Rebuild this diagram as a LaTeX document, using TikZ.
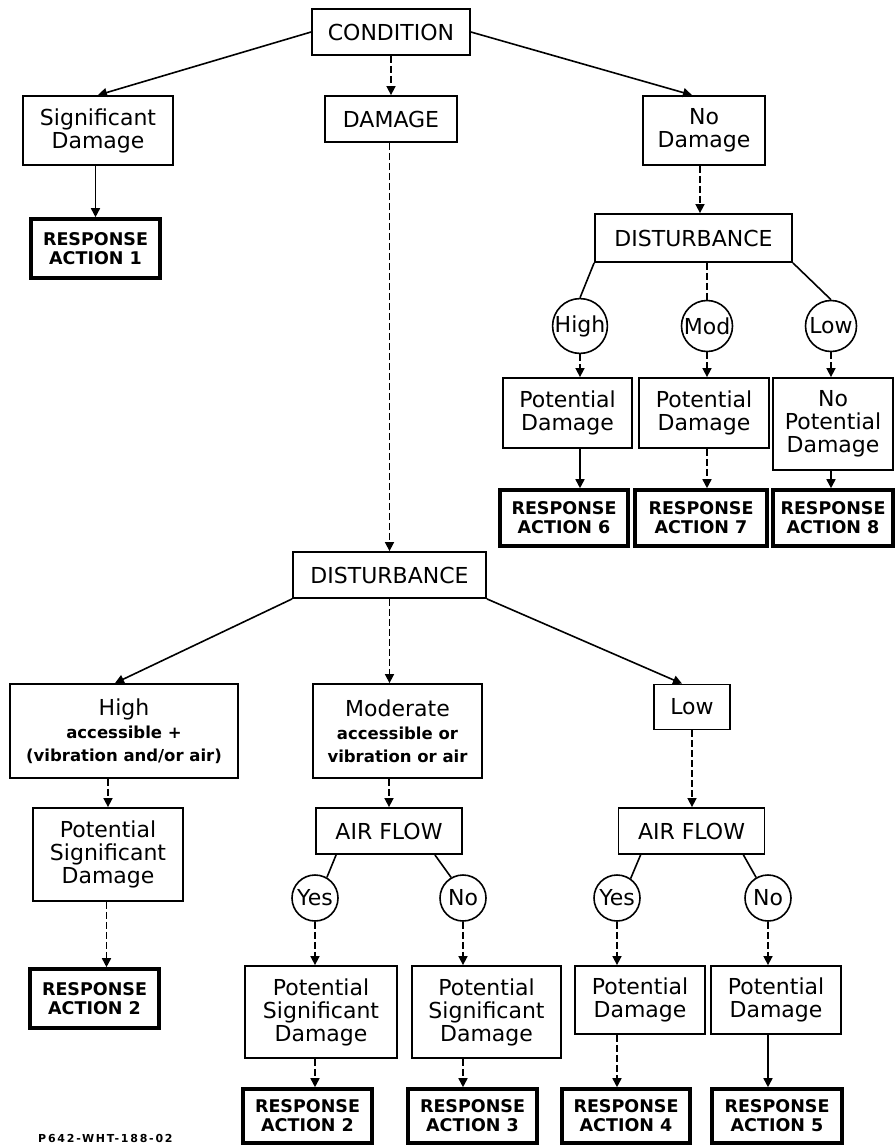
\documentclass[tikz,border=0pt]{standalone}
\usepackage{fontspec}
\setmainfont{DejaVu Sans}
\usetikzlibrary{arrows.meta}
\newcommand{\bigf}{\fontsize{22}{23}\selectfont}
\newcommand{\raf}{\fontsize{17.5}{19}\selectfont\bfseries}
\newcommand{\smf}{\fontsize{16.5}{22}\selectfont\bfseries}
\begin{document}
\begin{tikzpicture}[x=1pt,y=-1pt,
  bx/.style={draw, line width=1.8pt, align=center, inner sep=0pt, font=\bigf},
  ra/.style={draw, line width=3.6pt, align=center, inner sep=0pt, font=\raf},
  cc/.style={draw, circle, line width=1.6pt, inner sep=0pt, font=\bigf},
  ln/.style={line width=1.6pt},
  ar/.style={line width=1.6pt, -{Triangle[width=9pt,length=9pt]}},
  da/.style={ar, dash pattern=on 7pt off 3pt},
  dl/.style={ln, dash pattern=on 7pt off 3pt}]
\useasboundingbox (0,0) rectangle (895,1146);
% top level
\node[bx, minimum width=158pt, minimum height=46pt] (cond) at (391,32) {CONDITION};
\node[bx, minimum width=150pt, minimum height=69pt] (sig) at (98,130.5) {Significant\\Damage};
\node[bx, minimum width=132pt, minimum height=46pt] (dam) at (391,119) {DAMAGE};
\node[bx, minimum width=122pt, minimum height=69pt] (nod) at (704,130.5) {No\\Damage};
\node[ra, minimum width=129pt, minimum height=59pt] (ra1) at (95.5,248.5) {RESPONSE\\ACTION 1};
% no damage branch
\node[bx, minimum width=197pt, minimum height=48pt] (dist1) at (693.5,238) {DISTURBANCE};
\node[cc, minimum size=51pt] (c1) at (580,326) {High};
\node[cc, minimum size=51pt] (c2) at (707,326) {Mod};
\node[cc, minimum size=51pt] (c3) at (831,326) {Low};
\node[bx, minimum width=129pt, minimum height=70pt] (pd1) at (567.5,413) {Potential\\Damage};
\node[bx, minimum width=130pt, minimum height=70pt] (pd2) at (704,413) {Potential\\Damage};
\node[bx, minimum width=120pt, minimum height=92pt] (pd3) at (833,424) {No\\Potential\\Damage};
\node[ra, minimum width=128pt, minimum height=56pt] (ra6) at (564,518) {RESPONSE\\ACTION 6};
\node[ra, minimum width=132pt, minimum height=56pt] (ra7) at (701,518) {RESPONSE\\ACTION 7};
\node[ra, minimum width=120pt, minimum height=56pt] (ra8) at (833,518) {RESPONSE\\ACTION 8};
% damage branch
\node[bx, minimum width=193pt, minimum height=46pt] (dist2) at (389.5,575) {DISTURBANCE};
\node[bx, minimum width=228pt, minimum height=94pt] (hi) at (124,731) {High\\{\smf accessible +}\\{\smf (vibration and/or air)}};
\node[bx, minimum width=169pt, minimum height=94pt] (mo) at (397.5,731) {Moderate\\{\smf accessible or}\\{\smf vibration or air}};
\node[bx, minimum width=76pt, minimum height=45pt] (lo) at (692,707) {Low};
\node[bx, minimum width=150pt, minimum height=93pt] (psd1) at (108,854.5) {Potential\\Significant\\Damage};
\node[ra, minimum width=129pt, minimum height=59pt] (ra2a) at (94.5,998.5) {RESPONSE\\ACTION 2};
\node[bx, minimum width=146pt, minimum height=46pt] (af1) at (389,831) {AIR FLOW};
\node[bx, minimum width=146pt, minimum height=46pt] (af2) at (691.5,831) {AIR FLOW};
\node[cc, minimum size=46pt] (y1) at (315,898) {Yes};
\node[cc, minimum size=46pt] (n1) at (463,898) {No};
\node[cc, minimum size=46pt] (y2) at (617,898) {Yes};
\node[cc, minimum size=46pt] (n2) at (768,898) {No};
\node[bx, minimum width=152pt, minimum height=92pt] (psd2) at (321,1012) {Potential\\Significant\\Damage};
\node[bx, minimum width=149pt, minimum height=92pt] (psd3) at (486.5,1012) {Potential\\Significant\\Damage};
\node[bx, minimum width=130pt, minimum height=68pt] (pd4) at (640,1000) {Potential\\Damage};
\node[bx, minimum width=130pt, minimum height=68pt] (pd5) at (776,1000) {Potential\\Damage};
\node[ra, minimum width=129pt, minimum height=54pt] (ra2b) at (307.5,1116) {RESPONSE\\ACTION 2};
\node[ra, minimum width=129pt, minimum height=54pt] (ra3) at (472.5,1116) {RESPONSE\\ACTION 3};
\node[ra, minimum width=128pt, minimum height=54pt] (ra4) at (626,1116) {RESPONSE\\ACTION 4};
\node[ra, minimum width=130pt, minimum height=54pt] (ra5) at (777,1116) {RESPONSE\\ACTION 5};
\node[anchor=west, inner sep=0pt, font=\fontsize{11}{13}\selectfont\bfseries\addfontfeatures{LetterSpace=16}] (code) at (38,1138) {P642-WHT-188-02};
% connectors top
\draw[ar] (cond.west) -- (sig.north);
\draw[da] (cond.south) -- (dam.north);
\draw[ar] (cond.east) -- ([xshift=-12pt]nod.north);
\draw[ar] (sig.south -| ra1) -- (ra1.north);
\draw[da] (dam.south -| dist2) -- (dist2.north);
\draw[da] ([xshift=-4pt]nod.south) -- ([xshift=-4pt]nod.south |- dist1.north);
\draw[ln] (dist1.south west) -- (c1.north);
\draw[dl] (dist1.south -| c2) -- (c2.north);
\draw[ln] (dist1.south east) -- (c3.north);
\draw[da] (c1.south) -- (c1.south |- pd1.north);
\draw[da] (c2.south) -- (c2.south |- pd2.north);
\draw[da] (c3.south) -- (c3.south |- pd3.north);
\draw[ar] (pd1.south -| c1) -- (ra6.north -| c1);
\draw[da] (pd2.south -| c2) -- (ra7.north -| c2);
\draw[ar] (pd3.south -| c3) -- (ra8.north -| c3);
% connectors bottom
\draw[ar] (dist2.south west) -- ([xshift=-9pt]hi.north);
\draw[da] (dist2.south) -- (dist2.south |- mo.north);
\draw[ar] (dist2.south east) -- ([xshift=-10pt]lo.north);
\draw[da] (hi.south -| psd1) -- (psd1.north);
\draw[da] (psd1.south -| ra2a.north) ++(12pt,0) coordinate (p1) -- (p1 |- ra2a.north);
\draw[da] (mo.south -| af1) -- (af1.north);
\draw[da] (lo.south) -- (lo.south |- af2.north);
\draw[ln] ([xshift=21pt]af1.south west) -- (y1.60);
\draw[ln] ([xshift=-28pt]af1.south east) -- (n1.120);
\draw[ln] ([xshift=23pt]af2.south west) -- (y2.55);
\draw[ln] ([xshift=-22pt]af2.south east) -- (n2.120);
\draw[da] (y1.south) -- (y1.south |- psd2.north);
\draw[da] (n1.south) -- (n1.south |- psd3.north);
\draw[da] (y2.south) -- (y2.south |- pd4.north);
\draw[da] (n2.south) -- (n2.south |- pd5.north);
\draw[da] (psd2.south -| y1) -- (ra2b.north -| y1);
\draw[da] (psd3.south -| n1) -- (ra3.north -| n1);
\draw[da] (pd4.south -| y2) -- (ra4.north -| y2);
\draw[ar] (pd5.south -| n2) -- (ra5.north -| n2);
\end{tikzpicture}
\end{document}
